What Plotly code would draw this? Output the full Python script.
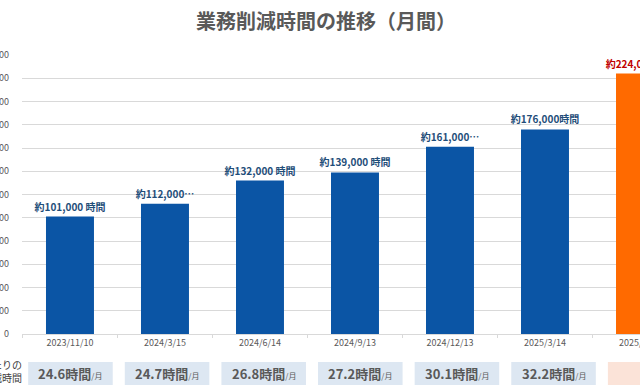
import plotly.graph_objects as go

categories = ["2023/11/10", "2024/3/15", "2024/6/14", "2024/9/13", "2024/12/13", "2025/3/14", "2025/6/13"]
values = [101000, 112000, 132000, 139000, 161000, 176000, 224000]
bar_labels = ["約101,000 時間", "約112,000…", "約132,000 時間", "約139,000 時間", "約161,000…", "約176,000時間", "約224,000時間"]
per_person = ["24.6", "24.7", "26.8", "27.2", "30.1", "32.2", "38.4"]
highlight = [False, False, False, False, False, False, True]

FONT = "Noto Sans CJK JP"
BLUE = "#0B55A5"
ORANGE = "#FF6A00"
colors = [ORANGE if h else BLUE for h in highlight]
label_colors = ["#C00000" if h else "#1F4E79" for h in highlight]

fig = go.Figure()
fig.add_trace(go.Bar(
    x=categories, y=values, width=0.505,
    marker=dict(color=colors, line=dict(width=0)),
    text=[f"<b>{t}</b>" for t in bar_labels], textposition="outside",
    textfont=dict(family=FONT, size=10, color=label_colors),
    constraintext="none", cliponaxis=False,
    hoverinfo="skip",
))

L, T, B = 22, 55, 56
plot_h = 390 - T - B

def py(pix):
    # pixel y -> paper y
    return (390 - B - pix) / plot_h

shapes = []
annotations = []
BOX_PITCH = 1.017
for i, (v, h) in enumerate(zip(per_person, highlight)):
    c = i * BOX_PITCH + 0.005
    shapes.append(dict(type="rect", xref="x", yref="paper",
                       x0=c - 0.445, x1=c + 0.445, y0=py(385), y1=py(362),
                       fillcolor="#FBE3D8" if h else "#DDE7F2", line=dict(width=0), layer="below"))
    annotations.append(dict(xref="x", yref="paper", x=c, y=py(373.5), showarrow=False,
                            text=f"<b>{v}時間</b><span style='font-size:8px'>/月</span>",
                            font=dict(family=FONT, size=13, color="#C00000" if h else "#595959"),
                            xanchor="center", yanchor="middle"))

annotations.append(dict(xref="paper", yref="paper", x=0, xshift=2, y=py(371), showarrow=False,
                        text="1人あたりの<br>月間削減時間", align="right",
                        font=dict(family=FONT, size=10, color="#404040"),
                        xanchor="right", yanchor="middle"))

fig.update_layout(
    width=640, height=390,
    margin=dict(l=L, r=0, t=T, b=B, pad=0),
    paper_bgcolor="white", plot_bgcolor="white",
    showlegend=False,
    title=dict(text="<b>業務削減時間の推移（月間）</b>", x=326/640, xref="container", xanchor="center",
               y=1 - 22/390, yref="container", yanchor="middle",
               font=dict(family=FONT, size=20, color="#595959")),
    shapes=shapes, annotations=annotations,
    font=dict(family=FONT),
)
fig.update_xaxes(type="category", range=[-0.505, 6.0], showgrid=False,
                 showline=True, linecolor="#D9D9D9", linewidth=1,
                 ticks="outside", tickson="boundaries", ticklen=3, tickcolor="#D9D9D9",
                 tickfont=dict(family=FONT, size=9, color="#595959"), automargin=False)
fig.update_yaxes(range=[0, 240000], dtick=20000, tickformat=",", showgrid=True,
                 gridcolor="#D9D9D9", gridwidth=1, zeroline=False, showline=False,
                 tickfont=dict(family=FONT, size=9, color="#595959"),
                 ticklabelstandoff=12, automargin=False)

fig.write_html("out.html", config={"displayModeBar": False},
               post_script="document.body.style.margin='0';document.body.style.overflow='hidden';")
